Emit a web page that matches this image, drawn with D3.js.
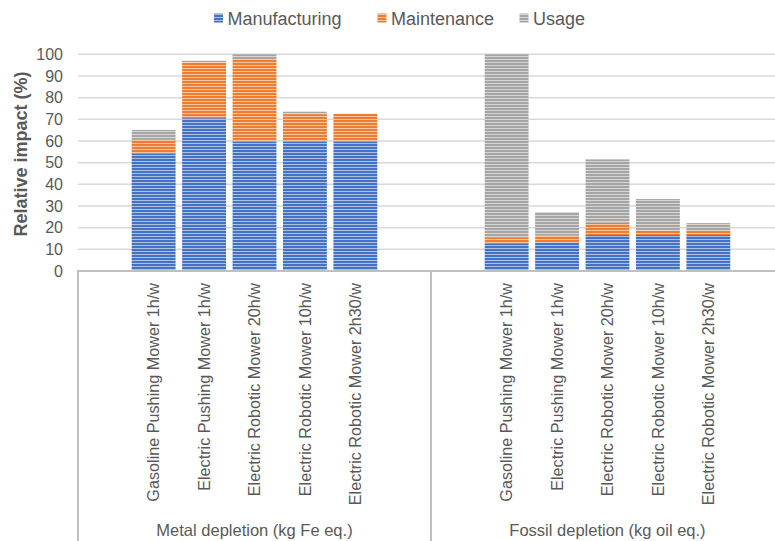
<!DOCTYPE html>
<html>
<head>
<meta charset="utf-8">
<script src="https://cdn.jsdelivr.net/npm/d3@7"></script>
<style>
  html, body { margin: 0; padding: 0; background: #fff; }
  svg { display: block; font-family: "Liberation Sans", Arial, sans-serif; }
</style>
</head>
<body>
<svg id="chart" width="775" height="541"></svg>
<script>
// Impact groups and mowers
const groups = ["Metal depletion (kg Fe eq.)", "Fossil depletion (kg oil eq.)"];
const mowers = [
  "Gasoline Pushing Mower 1h/w",
  "Electric Pushing Mower 1h/w",
  "Electric Robotic Mower 20h/w",
  "Electric Robotic Mower 10h/w",
  "Electric Robotic Mower 2h30/w"
];
const seriesNames = ["Manufacturing", "Maintenance", "Usage"];

// Relative impact (%) per group, one value per mower
const manufacturingMetal = [54.3, 70.5, 59.7, 59.7, 59.7];
const maintenanceMetal   = [6.5, 25.8, 38.1, 12.7, 12.8];
const usageMetal         = [4.3, 0.7, 2.2, 1.1, 0.1];

const manufacturingFossil = [12.8, 13.2, 16.6, 16.6, 16.6];
const maintenanceFossil   = [2.8, 3.1, 5.7, 2.0, 1.9];
const usageFossil         = [84.4, 10.9, 29.2, 14.6, 3.6];

const yTicks = [0, 10, 20, 30, 40, 50, 60, 70, 80, 90, 100];

const colors = { "Manufacturing": "#4472C4", "Maintenance": "#ED7D31", "Usage": "#A5A5A5" };

// Rows for the stack layout
const valuesByGroup = [
  [manufacturingMetal, maintenanceMetal, usageMetal],
  [manufacturingFossil, maintenanceFossil, usageFossil]
];
const rows = [];
groups.forEach((g, gi) => {
  mowers.forEach((m, mi) => {
    const row = { group: g, mower: m };
    seriesNames.forEach((s, si) => { row[s] = valuesByGroup[gi][si][mi]; });
    rows.push(row);
  });
});

const svg = d3.select("#chart");
const plotLeft = 78, plotRight = 784, plotTop = 54.3, plotBottom = 271;
const textColor = "#595959";

// Striped fills
const defs = svg.append("defs");
seriesNames.forEach(s => {
  const p = defs.append("pattern")
    .attr("id", "pat-" + s)
    .attr("patternUnits", "userSpaceOnUse")
    .attr("width", 6).attr("height", 3);
  p.append("rect").attr("width", 6).attr("height", 3).attr("fill", colors[s]);
  p.append("rect").attr("y", 2).attr("width", 6).attr("height", 1)
    .attr("fill", "#fff").attr("opacity", 0.55);
});

const y = d3.scaleLinear().domain([0, 100]).range([plotBottom, plotTop]);
const x0 = d3.scaleBand().domain(groups).range([plotLeft, plotRight]).padding(0);
const inner = 0.13;
const x1 = d3.scaleBand().domain(mowers).range([0, x0.bandwidth()])
  .paddingInner(inner).paddingOuter(1 + inner / 2);

// Gridlines
svg.append("g")
  .selectAll("line")
  .data(yTicks.filter(t => t > 0))
  .join("line")
  .attr("x1", plotLeft).attr("x2", plotRight)
  .attr("y1", d => y(d)).attr("y2", d => y(d))
  .attr("stroke", "#d9d9d9").attr("stroke-width", 1.5);

// Y axis tick labels
const yAxis = d3.axisLeft(y).tickValues(yTicks).tickSize(0).tickPadding(0);
const yg = svg.append("g").attr("transform", `translate(63,0)`).call(yAxis);
yg.select(".domain").remove();
yg.selectAll("text")
  .attr("fill", textColor)
  .attr("font-size", 16)
  .attr("font-family", "Liberation Sans, Arial, sans-serif");

// Stacked bars
const stack = d3.stack().keys(seriesNames);
const stacked = stack(rows);
svg.append("g")
  .selectAll("g")
  .data(stacked)
  .join("g")
  .attr("fill", d => `url(#pat-${d.key})`)
  .selectAll("rect")
  .data(d => d)
  .join("rect")
  .attr("x", d => x0(d.data.group) + x1(d.data.mower))
  .attr("width", x1.bandwidth())
  .attr("y", d => y(d[1]))
  .attr("height", d => Math.max(0, y(d[0]) - y(d[1])));

// Category axis frame
const frame = svg.append("g").attr("stroke", "#bfbfbf").attr("stroke-width", 2);
frame.append("line")
  .attr("x1", plotLeft - 1).attr("x2", plotRight)
  .attr("y1", plotBottom).attr("y2", plotBottom);
frame.selectAll("line.sep")
  .data([...groups.map(g => x0(g)), plotRight])
  .join("line")
  .attr("class", "sep")
  .attr("x1", d => d).attr("x2", d => d)
  .attr("y1", plotBottom).attr("y2", 541);

// Mower labels (vertical)
svg.append("g")
  .selectAll("text")
  .data(rows)
  .join("text")
  .attr("transform", d => {
    const cx = x0(d.group) + x1(d.mower) + x1.bandwidth() / 2;
    return `translate(${cx},283) rotate(-90)`;
  })
  .attr("text-anchor", "end")
  .attr("dy", "0.35em")
  .attr("fill", textColor)
  .attr("font-size", 16.2)
  .text(d => d.mower);

// Group labels
svg.append("g")
  .selectAll("text")
  .data(groups)
  .join("text")
  .attr("x", d => x0(d) + x0.bandwidth() / 2)
  .attr("y", 536)
  .attr("text-anchor", "middle")
  .attr("fill", textColor)
  .attr("font-size", 16.5)
  .text(d => d);

// Y axis title
svg.append("text")
  .attr("transform", "translate(27,154) rotate(-90)")
  .attr("text-anchor", "middle")
  .attr("fill", textColor)
  .attr("font-size", 18)
  .attr("font-weight", "bold")
  .text("Relative impact (%)");

// Legend
const legendX = [214, 377.5, 519.5];
const legend = svg.append("g")
  .selectAll("g")
  .data(seriesNames)
  .join("g")
  .attr("transform", (d, i) => `translate(${legendX[i]},0)`);
legend.append("rect")
  .attr("y", 13.5).attr("width", 9).attr("height", 9)
  .attr("fill", d => `url(#pat-${d})`);
legend.append("text")
  .attr("x", 13.5).attr("y", 24.5)
  .attr("fill", textColor)
  .attr("font-size", 18)
  .text(d => d);
</script>
</body>
</html>
